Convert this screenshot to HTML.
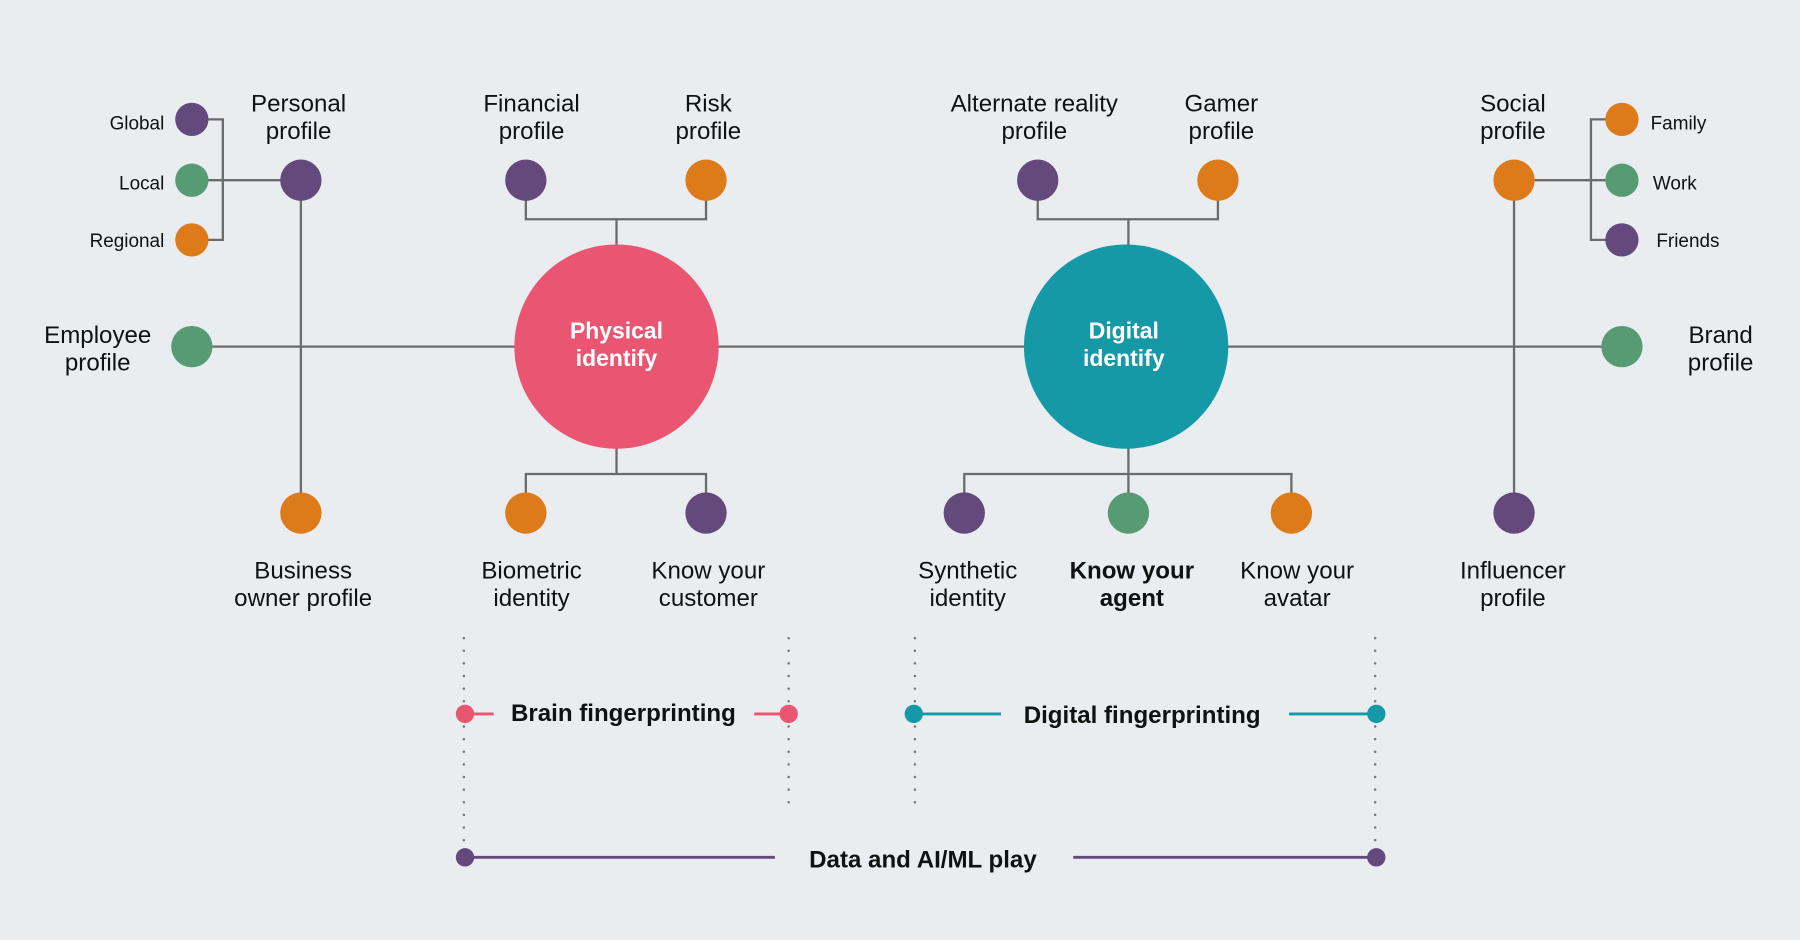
<!DOCTYPE html>
<html><head><meta charset="utf-8"><style>
html,body{margin:0;padding:0;background:#e9edf0;}
svg{display:block}
text{font-family:"Liberation Sans",sans-serif;fill:#111;}
</style></head><body>
<svg width="1800" height="940" viewBox="0 0 1568 819" xmlns="http://www.w3.org/2000/svg">
<rect width="1568" height="819" fill="#e9edf0"/>
<g stroke="#6b6b6b" stroke-width="2" fill="none">
<!-- left bracket -->
<polyline points="167,104 194,104 194,209 167,209"/>
<line x1="167" y1="157" x2="262" y2="157"/>
<line x1="262" y1="157" x2="262" y2="447"/>
<line x1="167" y1="302" x2="1413" y2="302"/>
<!-- physical top -->
<polyline points="458,157 458,191 615,191 615,157"/>
<line x1="537" y1="191" x2="537" y2="215"/>
<line x1="537" y1="390" x2="537" y2="413"/>
<polyline points="458,447 458,413 615,413 615,447"/>
<!-- digital -->
<polyline points="904,157 904,191 1061,191 1061,157"/>
<line x1="983" y1="191" x2="983" y2="215"/>
<line x1="983" y1="390" x2="983" y2="447"/>
<polyline points="840,447 840,413 1125,413 1125,447"/>
<!-- right -->
<polyline points="1413,104 1386,104 1386,209 1413,209"/>
<line x1="1319" y1="157" x2="1413" y2="157"/>
<line x1="1319" y1="157" x2="1319" y2="447"/>
</g>
<g stroke="#777" stroke-width="2.2" stroke-linecap="round" stroke-dasharray="0 11" fill="none">
<line x1="404" y1="556" x2="404" y2="740"/>
<line x1="687" y1="556" x2="687" y2="702"/>
<line x1="797" y1="556" x2="797" y2="702"/>
<line x1="1198" y1="556" x2="1198" y2="740"/>
</g>
<!-- dots -->
<g>
<circle cx="167" cy="104" r="14.5" fill="#64497c"/>
<circle cx="167" cy="157" r="14.5" fill="#569b74"/>
<circle cx="167" cy="209" r="14.5" fill="#dd7a1a"/>
<circle cx="262" cy="157" r="18" fill="#64497c"/>
<circle cx="167" cy="302" r="18" fill="#569b74"/>
<circle cx="262" cy="447" r="18" fill="#dd7a1a"/>
<circle cx="458" cy="157" r="18" fill="#64497c"/>
<circle cx="615" cy="157" r="18" fill="#dd7a1a"/>
<circle cx="458" cy="447" r="18" fill="#dd7a1a"/>
<circle cx="615" cy="447" r="18" fill="#64497c"/>
<circle cx="904" cy="157" r="18" fill="#64497c"/>
<circle cx="1061" cy="157" r="18" fill="#dd7a1a"/>
<circle cx="840" cy="447" r="18" fill="#64497c"/>
<circle cx="983" cy="447" r="18" fill="#569b74"/>
<circle cx="1125" cy="447" r="18" fill="#dd7a1a"/>
<circle cx="1319" cy="157" r="18" fill="#dd7a1a"/>
<circle cx="1413" cy="104" r="14.5" fill="#dd7a1a"/>
<circle cx="1413" cy="157" r="14.5" fill="#569b74"/>
<circle cx="1413" cy="209" r="14.5" fill="#64497c"/>
<circle cx="1413" cy="302" r="18" fill="#569b74"/>
<circle cx="1319" cy="447" r="18" fill="#64497c"/>
<circle cx="537" cy="302" r="89" fill="#ea5672"/>
<circle cx="981" cy="302" r="89" fill="#1699a6"/>
</g>
<!-- circle labels -->
<g font-weight="bold" font-size="20" text-anchor="middle">
<text x="537" y="295" style="fill:#fff">Physical</text>
<text x="537" y="319" style="fill:#fff">identify</text>
<text x="979" y="295" style="fill:#fff">Digital</text>
<text x="979" y="319" style="fill:#fff">identify</text>
</g>
<!-- small labels -->
<g font-size="16.5">
<text x="143" y="113" text-anchor="end">Global</text>
<text x="143" y="165" text-anchor="end">Local</text>
<text x="143" y="215" text-anchor="end">Regional</text>
<text x="1438" y="113">Family</text>
<text x="1440" y="165">Work</text>
<text x="1443" y="215">Friends</text>
</g>
<g font-size="21" text-anchor="middle">
<text x="260" y="97">Personal</text><text x="260" y="121">profile</text>
<text x="463" y="97">Financial</text><text x="463" y="121">profile</text>
<text x="617" y="97">Risk</text><text x="617" y="121">profile</text>
<text x="901" y="97">Alternate reality</text><text x="901" y="121">profile</text>
<text x="1064" y="97">Gamer</text><text x="1064" y="121">profile</text>
<text x="1318" y="97">Social</text><text x="1318" y="121">profile</text>
<text x="85" y="299">Employee</text><text x="85" y="323">profile</text>
<text x="1499" y="299">Brand</text><text x="1499" y="323">profile</text>
<text x="264" y="504">Business</text><text x="264" y="528">owner profile</text>
<text x="463" y="504">Biometric</text><text x="463" y="528">identity</text>
<text x="617" y="504">Know your</text><text x="617" y="528">customer</text>
<text x="843" y="504">Synthetic</text><text x="843" y="528">identity</text>
<text x="986" y="504" font-weight="bold">Know your</text><text x="986" y="528" font-weight="bold">agent</text>
<text x="1130" y="504">Know your</text><text x="1130" y="528">avatar</text>
<text x="1318" y="504">Influencer</text><text x="1318" y="528">profile</text>
</g>
<!-- bottom -->
<g stroke-width="2.5">
<line x1="405" y1="622" x2="430" y2="622" stroke="#ea5672"/>
<line x1="657" y1="622" x2="687" y2="622" stroke="#ea5672"/>
<line x1="796" y1="622" x2="872" y2="622" stroke="#1699a6"/>
<line x1="1123" y1="622" x2="1199" y2="622" stroke="#1699a6"/>
<line x1="405" y1="747" x2="675" y2="747" stroke="#64497c"/>
<line x1="935" y1="747" x2="1199" y2="747" stroke="#64497c"/>
</g>
<circle cx="405" cy="622" r="8" fill="#ea5672"/>
<circle cx="687" cy="622" r="8" fill="#ea5672"/>
<circle cx="796" cy="622" r="8" fill="#1699a6"/>
<circle cx="1199" cy="622" r="8" fill="#1699a6"/>
<circle cx="405" cy="747" r="8" fill="#64497c"/>
<circle cx="1199" cy="747" r="8" fill="#64497c"/>
<g font-size="21" font-weight="bold" text-anchor="middle">
<text x="543" y="628">Brain fingerprinting</text>
<text x="995" y="630">Digital fingerprinting</text>
<text x="804" y="756">Data and AI/ML play</text>
</g>
</svg>
</body></html>
